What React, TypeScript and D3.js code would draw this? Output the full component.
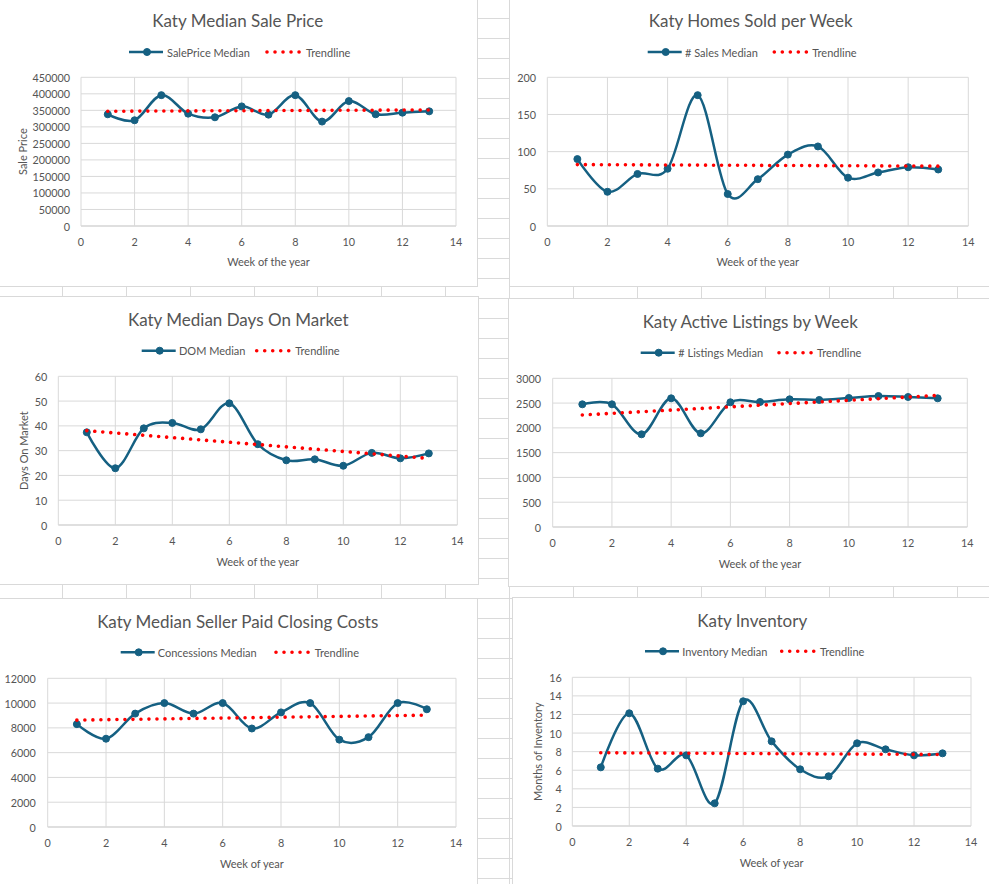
import React from 'react';
import * as d3 from 'd3';

// ---------- data ----------
const weeks = [1, 2, 3, 4, 5, 6, 7, 8, 9, 10, 11, 12, 13];
const salePriceMedian = [338000, 320000, 396000, 340000, 329000, 362000, 337000, 396000, 316000, 378000, 338000, 343000, 347000];
const salesMedian = [90, 46, 70, 77, 176, 43, 63, 96, 107, 65, 72, 79, 76];
const domMedian = [37.4, 22.9, 39.0, 41.2, 38.6, 49.1, 32.6, 26.1, 26.5, 23.9, 29.1, 26.9, 28.9];
const listingsMedian = [2475, 2475, 1870, 2596, 1890, 2516, 2522, 2576, 2563, 2603, 2643, 2623, 2596];
const concessionsMedian = [8300, 7125, 9150, 10000, 9150, 10000, 7950, 9250, 10000, 7050, 7250, 10000, 9500];
const inventoryMedian = [6.31, 12.13, 6.17, 7.6, 2.44, 13.42, 9.11, 6.1, 5.35, 8.9, 8.25, 7.6, 7.82];

const xDomain = [0, 14];
const xTickValues = [0, 2, 4, 6, 8, 10, 12, 14];
const salePriceTicks = [0, 50000, 100000, 150000, 200000, 250000, 300000, 350000, 400000, 450000];
const salesTicks = [0, 50, 100, 150, 200];
const domTicks = [0, 10, 20, 30, 40, 50, 60];
const listingsTicks = [0, 500, 1000, 1500, 2000, 2500, 3000];
const concessionsTicks = [0, 2000, 4000, 6000, 8000, 10000, 12000];
const inventoryTicks = [0, 2, 4, 6, 8, 10, 12, 14, 16];

// ---------- styles ----------
const LINE = '#156082';
const TREND = '#FF0000';
const TEXT = '#555555';
const GRID = '#D9D9D9';
const SHEET = '#DADADA';
const FONT = 'Lato, "Open Sans", sans-serif';

type Layout = {
  box: [number, number, number, number]; // left, top, right, bottom
  plot: [number, number, number, number]; // left, right, top, bottom
  titleY: number;
  legendY: number;
  legendX: number;
  legendTextX: number;
  trendX: number;
  trendTextX: number;
  yLabelEnd: number;
  xLabelY: number;
  xTitleY: number;
  yTitleX?: number;
};

type ChartDef = {
  title: string;
  seriesName: string;
  values: number[];
  yTicks: number[];
  xTitle: string;
  yTitle?: string;
  layout: Layout;
};

const charts: ChartDef[] = [
  {
    title: 'Katy Median Sale Price', seriesName: 'SalePrice Median', values: salePriceMedian, yTicks: salePriceTicks,
    xTitle: 'Week of the year', yTitle: 'Sale Price',
    layout: { box: [-2, -2, 477.5, 286.5], plot: [81, 456, 77.3, 226], titleY: 20.7, legendY: 52, legendX: 129, legendTextX: 167, trendX: 267, trendTextX: 306, yLabelEnd: 70, xLabelY: 241, xTitleY: 261.7, yTitleX: 22.7 },
  },
  {
    title: 'Katy Homes Sold per Week', seriesName: '# Sales Median', values: salesMedian, yTicks: salesTicks,
    xTitle: 'Week of the year',
    layout: { box: [509.5, -2, 992, 286.5], plot: [547.3, 968.3, 77.3, 226], titleY: 20.7, legendY: 52, legendX: 647.7, legendTextX: 685, trendX: 774.3, trendTextX: 812.3, yLabelEnd: 536, xLabelY: 241, xTitleY: 261.7 },
  },
  {
    title: 'Katy Median Days On Market', seriesName: 'DOM Median', values: domMedian, yTicks: domTicks,
    xTitle: 'Week of the year', yTitle: 'Days On Market',
    layout: { box: [-2, 296.5, 478.5, 584.5], plot: [58.3, 457.3, 376.3, 525], titleY: 319.3, legendY: 350.7, legendX: 141.7, legendTextX: 179, trendX: 256.7, trendTextX: 295.3, yLabelEnd: 47.3, xLabelY: 540.3, xTitleY: 561, yTitleX: 23.3 },
  },
  {
    title: 'Katy Active Listings by Week', seriesName: '# Listings Median', values: listingsMedian, yTicks: listingsTicks,
    xTitle: 'Week of the year',
    layout: { box: [508.5, 298.5, 992, 586.5], plot: [552.7, 967.3, 378.3, 527], titleY: 321.7, legendY: 352.7, legendX: 640.7, legendTextX: 678.3, trendX: 779, trendTextX: 817, yLabelEnd: 541, xLabelY: 542.3, xTitleY: 563 },
  },
  {
    title: 'Katy Median Seller Paid Closing Costs', seriesName: 'Concessions Median', values: concessionsMedian, yTicks: concessionsTicks,
    xTitle: 'Week of year',
    layout: { box: [-2, 598.5, 477.5, 890], plot: [47.7, 456, 678.3, 827], titleY: 621.3, legendY: 652.3, legendX: 120.7, legendTextX: 157.7, trendX: 276, trendTextX: 314.7, yLabelEnd: 35.7, xLabelY: 842.3, xTitleY: 863 },
  },
  {
    title: 'Katy Inventory', seriesName: 'Inventory Median', values: inventoryMedian, yTicks: inventoryTicks,
    xTitle: 'Week of year', yTitle: 'Months of Inventory',
    layout: { box: [512.5, 597.5, 992, 890], plot: [572.3, 971, 677.3, 826], titleY: 620.3, legendY: 651.3, legendX: 645, legendTextX: 682.3, trendX: 781.7, trendTextX: 820, yLabelEnd: 561.7, xLabelY: 841.3, xTitleY: 862, yTitleX: 537.7 },
  },
];

// least-squares linear trendline (what Excel's "Linear" trendline draws)
function linearFit(xs: number[], ys: number[]) {
  const mx = d3.mean(xs) as number;
  const my = d3.mean(ys) as number;
  const sxy = d3.sum(xs, (x, i) => (x - mx) * (ys[i] - my));
  const sxx = d3.sum(xs, (x) => (x - mx) * (x - mx));
  const slope = sxy / sxx;
  return (x: number) => my + slope * (x - mx);
}

const DOT_DASH = '0.01 8';
const DOT_W = 3.6;

function Chart({ def }: { def: ChartDef }) {
  const L = def.layout;
  const [pl, pr, pt, pb] = L.plot;
  const x = d3.scaleLinear().domain(xDomain).range([pl, pr]);
  const yMax = d3.max(def.yTicks) as number;
  const y = d3.scaleLinear().domain([0, yMax]).range([pb, pt]);
  const pts: [number, number][] = weeks.map((w, i) => [w, def.values[i]]);
  const line = d3
    .line<[number, number]>()
    .x((d) => x(d[0]))
    .y((d) => y(d[1]))
    .curve(d3.curveCardinal.tension(0));
  const fit = linearFit(weeks, def.values);
  const x0 = weeks[0];
  const x1 = weeks[weeks.length - 1];
  const [bl, bt, br, bb] = L.box;
  const cx = (bl + br) / 2;
  const plotCx = (pl + pr) / 2;
  const plotCy = (pt + pb) / 2;
  return (
    <g>
      <rect x={bl} y={bt} width={br - bl} height={bb - bt} fill="#FFFFFF" stroke={GRID} strokeWidth={1} />
      <text x={cx} y={L.titleY} textAnchor="middle" dominantBaseline="central" fontSize={17} fill={TEXT} fontFamily={FONT}>
        {def.title}
      </text>
      {/* legend */}
      <line x1={L.legendX} x2={L.legendX + 34} y1={L.legendY} y2={L.legendY} stroke={LINE} strokeWidth={2.5} />
      <circle cx={L.legendX + 18} cy={L.legendY} r={3.5} fill={LINE} stroke={LINE} />
      <text x={L.legendTextX} y={L.legendY} dominantBaseline="central" fontSize={11} fill={TEXT} fontFamily={FONT}>
        {def.seriesName}
      </text>
      <line x1={L.trendX} x2={L.trendX + 35} y1={L.legendY} y2={L.legendY} stroke={TREND} strokeWidth={DOT_W} strokeLinecap="round" strokeDasharray={DOT_DASH} />
      <text x={L.trendTextX} y={L.legendY} dominantBaseline="central" fontSize={11} fill={TEXT} fontFamily={FONT}>
        Trendline
      </text>
      {/* gridlines */}
      {def.yTicks.map((t) => (
        <line key={'h' + t} x1={pl} x2={pr} y1={y(t)} y2={y(t)} stroke={t === 0 ? '#BFBFBF' : GRID} strokeWidth={1} />
      ))}
      {xTickValues.map((t) => (
        <line key={'v' + t} x1={x(t)} x2={x(t)} y1={pt} y2={pb} stroke={GRID} strokeWidth={1} />
      ))}
      {/* tick labels */}
      {def.yTicks.map((t) => (
        <text key={'yl' + t} x={L.yLabelEnd} y={y(t)} textAnchor="end" dominantBaseline="central" fontSize={10.8} fill={TEXT} fontFamily={FONT}>
          {String(t)}
        </text>
      ))}
      {xTickValues.map((t) => (
        <text key={'xl' + t} x={x(t)} y={L.xLabelY} textAnchor="middle" dominantBaseline="central" fontSize={10.8} fill={TEXT} fontFamily={FONT}>
          {String(t)}
        </text>
      ))}
      <text x={plotCx} y={L.xTitleY} textAnchor="middle" dominantBaseline="central" fontSize={11} fill={TEXT} fontFamily={FONT}>
        {def.xTitle}
      </text>
      {def.yTitle && L.yTitleX !== undefined && (
        <text
          x={L.yTitleX}
          y={plotCy}
          transform={`rotate(-90 ${L.yTitleX} ${plotCy})`}
          textAnchor="middle"
          dominantBaseline="central"
          fontSize={11}
          fill={TEXT}
          fontFamily={FONT}
        >
          {def.yTitle}
        </text>
      )}
      {/* series */}
      <path d={line(pts) || ''} fill="none" stroke={LINE} strokeWidth={2.5} strokeLinejoin="round" />
      {pts.map((p, i) => (
        <circle key={'m' + i} cx={x(p[0])} cy={y(p[1])} r={3.5} fill={LINE} stroke={LINE} strokeWidth={1} />
      ))}
      {/* trendline */}
      <line x1={x(x0)} x2={x(x1)} y1={y(fit(x0))} y2={y(fit(x1))} stroke={TREND} strokeWidth={DOT_W} strokeLinecap="round" strokeDasharray={DOT_DASH} />
    </g>
  );
}

export default function App() {
  const W = 989;
  const H = 884;
  const colLines = d3.range(0, 15).map((k) => Math.round(61.6 + 63.97 * k) + 0.5);
  const rowLines = d3.range(0, 45).map((k) => Math.round(18.3 + 20 * k) + 0.5);
  return (
    <svg width={W} height={H} style={{ position: 'absolute', left: 0, top: 0, background: '#FFFFFF' }}>
      <rect x={0} y={0} width={W} height={H} fill="#FFFFFF" />
      {colLines.map((c) => (
        <line key={'c' + c} x1={c} x2={c} y1={0} y2={H} stroke={SHEET} strokeWidth={1} />
      ))}
      {rowLines.map((r) => (
        <line key={'r' + r} x1={0} x2={W} y1={r} y2={r} stroke={SHEET} strokeWidth={1} />
      ))}
      {charts.map((c, i) => (
        <Chart key={i} def={c} />
      ))}
    </svg>
  );
}
